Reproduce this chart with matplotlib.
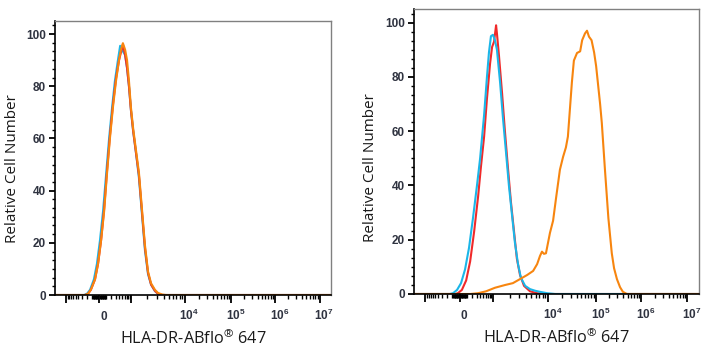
import numpy as np
import matplotlib.pyplot as plt
from matplotlib.ticker import FixedLocator, FixedFormatter, MultipleLocator
from matplotlib.transforms import ScaledTranslation

plt.rcParams['mathtext.default'] = 'regular'

# biexponential display axis, in channel units 0..1000
XMAX = 1000
tick_vals = [-1e3, 0, 1e3, 1e4, 1e5, 1e6, 1e7]
tick_pos = [40, 160, 277, 470, 638, 797, 959]
tick_text = ['', '0', '', '$10^4$', '$10^5$', '$10^6$', '$10^7$']

# left panel (isotype / blank / stained overlap)
left_cyan_x = [105, 116, 127, 141, 152, 163, 174, 185, 196, 207, 217, 228, 236, 243, 248,
               254, 261, 268, 275, 283, 294, 304, 315, 326, 337, 348, 362, 373, 388]
left_cyan_y = [0, 0.5, 2, 6, 12, 21, 32, 46, 60, 72, 82, 90, 95.5, 94, 93,
               92, 87, 80, 71, 63, 54, 45, 31, 17, 8, 4, 1.5, 0.5, 0]
left_red_x = [109, 120, 130, 145, 156, 167, 178, 188, 199, 210, 221, 232, 239, 246,
              254, 261, 268, 275, 283, 294, 304, 315, 326, 337, 348, 362, 373, 388]
left_red_y = [0, 0.5, 2, 6, 12, 21, 33, 47, 61, 73, 83, 90, 93, 96,
              92, 87, 80, 71, 63, 54, 46, 32, 18, 8.5, 4, 1.6, 0.5, 0]
left_orange_x = [109, 120, 130, 145, 156, 167, 178, 188, 199, 210, 221, 232, 239, 246,
                 254, 261, 268, 275, 283, 294, 304, 315, 326, 337, 348, 362, 373, 388, 402]
left_orange_y = [0, 0.5, 2, 6, 12, 21, 32, 46, 60, 72, 82, 90, 94, 96.5,
                 94, 90, 82, 72, 64, 55, 47, 33, 19, 9, 4.5, 2, 0.8, 0.2, 0]

# right panel
right_cyan_x = [126, 137, 151, 165, 179, 193, 207, 221, 232, 246, 256, 263, 270, 277, 284,
                291, 302, 312, 323, 333, 344, 354, 365, 375, 390, 407, 425, 442, 467, 495]
right_cyan_y = [0, 0.3, 1.5, 4, 9, 17, 28, 40, 50, 66, 80, 89, 95, 95.5, 93.5,
                90, 78, 65, 52, 40, 29, 19, 11, 6, 3, 1.8, 1.2, 0.8, 0.3, 0]
right_red_x = [144, 154, 168, 183, 197, 211, 225, 235, 246, 256, 267, 274, 281, 288,
               291, 298, 309, 319, 330, 340, 351, 361, 372, 386, 407, 432, 460]
right_red_y = [0, 0.3, 1.5, 5, 12, 23, 36, 47, 58, 72, 85, 91, 93, 99,
               96, 88, 74, 60, 46, 34, 23, 13, 7, 3, 1, 0.3, 0]
right_orange_x = [197, 225, 253, 284, 319, 347, 372, 397, 418, 432, 442, 449, 456, 463,
                  477, 488, 498, 512, 523, 533, 540, 547, 554, 561, 572, 583, 590, 600,
                  607, 614, 623, 632, 639, 647, 653, 659, 670, 682, 694, 702, 712, 723, 733, 747]
right_orange_y = [0, 0.3, 1, 2.3, 3.3, 4, 5.5, 7, 8.5, 11, 14, 15.6, 14.8, 15,
                  22.5, 27, 35, 45.8, 50.5, 54, 58, 68, 78, 86, 88.8, 89.4, 93.5, 96,
                  97, 94.8, 93.5, 89, 84, 76, 70, 63, 45.8, 28, 15, 9.5, 5.5, 2.5, 0.8, 0]

RED = '#f02a2a'
CYAN = '#1bb6e8'
ORANGE = '#f7850f'


def minor_positions():
    p = dict(zip(tick_vals, tick_pos))
    out = []
    c = 200.0
    for end in (p[1e3], p[-1e3]):
        for v in list(range(10, 100, 10)) + list(range(100, 1000, 100)):
            out.append(p[0] + (end - p[0]) * np.arcsinh(v / c) / np.arcsinh(1000 / c))
    for k in range(3, 7):
        a, b = p[10.0 ** k], p[10.0 ** (k + 1)]
        for m in range(2, 10):
            out.append(a + (b - a) * np.log10(m))
    return out


def pad0(x, y):
    return np.concatenate([[0], x, [XMAX]]), np.concatenate([[0], y, [0]])


fig = plt.figure(figsize=(7.09, 3.5), dpi=100)
ax1 = fig.add_axes([55 / 709, 55 / 350, 276 / 709, 274 / 350])
ax2 = fig.add_axes([414 / 709, 56 / 350, 285 / 709, 285 / 350])

panels = [
    (ax1, [(left_cyan_x, left_cyan_y, CYAN), (left_red_x, left_red_y, RED),
           (left_orange_x, left_orange_y, ORANGE)]),
    (ax2, [(right_red_x, right_red_y, RED), (right_cyan_x, right_cyan_y, CYAN),
           (right_orange_x, right_orange_y, ORANGE)]),
]

shift = ScaledTranslation(0.045, 0, fig.dpi_scale_trans)

for ax, series in panels:
    for x, y, col in series:
        xx, yy = pad0(x, y)
        ax.plot(xx, yy, color=col, lw=1.5, solid_joinstyle='round')
    ax.set_xlim(0, XMAX)
    ax.set_ylim(0, 105)

    for s in ('top', 'right'):
        ax.spines[s].set_color('#808080')
        ax.spines[s].set_linewidth(1.0)
    for s in ('left', 'bottom'):
        ax.spines[s].set_color('black')
        ax.spines[s].set_linewidth(1.2)

    ax.xaxis.set_major_locator(FixedLocator(tick_pos))
    ax.xaxis.set_major_formatter(FixedFormatter(tick_text))
    ax.xaxis.set_minor_locator(FixedLocator(minor_positions()))
    ax.tick_params(axis='x', which='major', direction='out', length=5.5, width=1.3,
                   pad=12.5, labelsize=8.5, labelcolor='#2f3340')
    ax.tick_params(axis='x', which='minor', direction='out', length=3, width=1.0)
    for t in ax.xaxis.get_major_ticks():
        lab = t.label1
        lab.set_va('baseline')
        lab.set_fontweight('bold')
        lab.set_family('Liberation Sans')
        lab.set_transform(lab.get_transform() + shift)

    ax.yaxis.set_major_locator(FixedLocator([0, 20, 40, 60, 80, 100]))
    ax.yaxis.set_minor_locator(MultipleLocator(20 / 6))
    ax.tick_params(axis='y', which='major', direction='out', length=4.5, width=1.3,
                   pad=2, labelsize=8.5, labelcolor='#2f3340')
    ax.tick_params(axis='y', which='minor', direction='out', length=2.5, width=1.0)
    for lab in ax.get_yticklabels():
        lab.set_fontweight('bold')
        lab.set_family('Liberation Sans')

    ax.set_ylabel('Relative Cell Number', family='Open Sans', fontsize=11, color='#1a1a1a')
    ax.set_xlabel('HLA-DR-ABflo$^{®}$ 647', family='Open Sans', fontsize=11.7, color='#1a1a1a')

ax1.yaxis.set_label_coords(-0.127, 0.46)
ax2.yaxis.set_label_coords(-0.126, 0.444)
ax1.xaxis.set_label_coords(0.5, -0.124)
ax2.xaxis.set_label_coords(0.5, -0.119)

fig.savefig('out.png', dpi=100)
